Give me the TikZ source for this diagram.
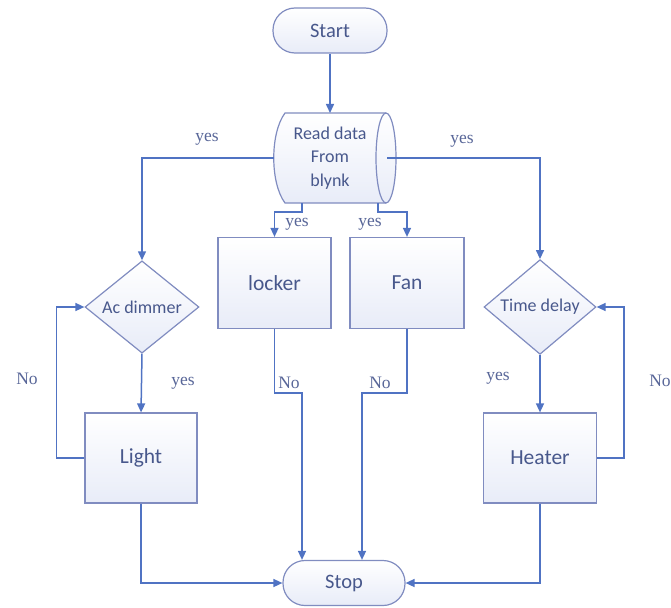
\documentclass[tikz,border=0pt]{standalone}
\usepackage{fontspec}
\setmainfont{Carlito}
\newfontfamily\labfont{Liberation Serif}
\usetikzlibrary{shapes.geometric,arrows.meta}
\definecolor{linec}{RGB}{80,115,195}
\definecolor{borderc}{RGB}{128,140,192}
\definecolor{fillc}{RGB}{232,236,248}
\definecolor{textc}{RGB}{72,88,140}
\definecolor{labc}{RGB}{88,102,152}
\tikzset{
  arr/.style={draw=linec, line width=1.5pt, -{Triangle[length=9pt,width=8pt]}},
  con/.style={draw=linec, line width=1.5pt},
  boxbase/.style={draw=borderc, line width=1.2pt, top color=white, bottom color=fillc, text=textc},
  procbox/.style={boxbase, rectangle, minimum width=113pt, minimum height=91pt, inner sep=0pt, font=\fontsize{21.5}{25}\selectfont},
  termbox/.style={boxbase, rectangle, rounded corners=22pt, minimum height=45pt, inner sep=0pt, font=\fontsize{20.5}{24}\selectfont},
  decbox/.style={boxbase, diamond, minimum width=114pt, minimum height=88pt, inner sep=0pt, font=\fontsize{18}{22}\selectfont},
  lab/.style={text=labc, font=\labfont\fontsize{17.5}{20}\selectfont, inner sep=0pt}
}
\begin{document}
\begin{tikzpicture}[x=1pt,y=-1pt]
\useasboundingbox (0,0) rectangle (671,607);
% terminals
\node[termbox, minimum width=114pt] (start) at (330,30.5) {Start};
\node[termbox, minimum width=122pt] (stop) at (344,583) {Stop};
% read data shape
\path[boxbase] (285,113) -- (386,113) arc[start angle=-90, end angle=90, x radius=10, y radius=45]
  -- (285,203) .. controls (270,183) and (270,133) .. (285,113) -- cycle;
\draw[draw=borderc, line width=1.2pt] (386,113) arc[start angle=-90, end angle=-270, x radius=10, y radius=45];
\node[text=textc, align=center, font=\fontsize{18}{23.5}\selectfont, minimum width=101pt, minimum height=90pt, inner sep=0pt] (read) at (330,158) {Read data\\From\\blynk};
\coordinate (rdL) at (274,158);
\coordinate (rdR) at (387,158);
\coordinate (b1) at (302,203);
\coordinate (b2) at (378,203);
% decisions
\node[decbox] (acd) at (142,307) {Ac dimmer};
\node[decbox, minimum width=112pt] (td) at (540,307) {Time delay};
% processes
\node[procbox] (locker) at (274.5,283) {locker};
\node[procbox, minimum width=114pt] (fan) at (407,283) {Fan};
\node[procbox, minimum width=112pt, minimum height=90pt] (light) at (141,458) {Light};
\node[procbox, minimum height=90pt] (heater) at (540,458) {Heater};
% connectors
\draw[arr] (start.south) -- (start.south |- 0,113);
\draw[arr] (rdL) -| (acd.north);
\draw[arr] (rdR) -| (td.north);
\draw[arr] (b1) -- ++(0,9) -| (locker.north);
\draw[arr] (b2) -- ++(0,9) -| (fan.north);
\draw[arr] (acd.south) -- (light.north);
\draw[arr] (td.south) -- (heater.north);
\draw[arr] (light.west) -- ++(-28,0) |- (acd.west);
\draw[arr] (heater.east) -- ++(27,0) |- (td.east);
\draw[arr] (locker.south) -- ++(0,64) -| ([xshift=-42pt]stop.north);
\draw[arr] (fan.south) -- ++(0,64) -| ([xshift=18pt]stop.north);
\draw[arr] (light.south) |- (stop.west);
\draw[arr] (heater.south) |- (stop.east);
% labels
\node[lab] (y1) at (207,139) {yes};
\node[lab] (y2) at (462,141) {yes};
\node[lab] (y3) at (297,224) {yes};
\node[lab] (y4) at (370,224) {yes};
\node[lab] (y5) at (183,383) {yes};
\node[lab] (y6) at (498,378) {yes};
\node[lab] (n1) at (27,379) {No};
\node[lab] (n2) at (660,381) {No};
\node[lab] (n3) at (289,383) {No};
\node[lab] (n4) at (380,383) {No};
\end{tikzpicture}
\end{document}
